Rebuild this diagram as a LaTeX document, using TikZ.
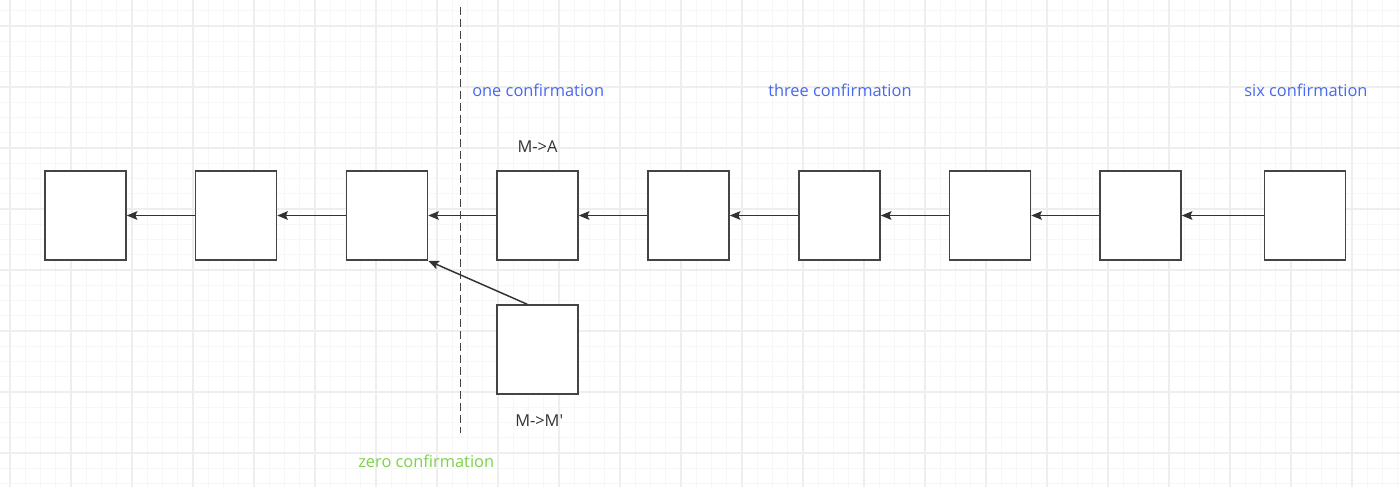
\documentclass[tikz,border=0pt]{standalone}
\usepackage{fontspec}
\setmainfont{Open Sans}[Ligatures=TeXOff]
\usetikzlibrary{arrows.meta,calc}
\definecolor{gridminor}{RGB}{247,247,247}
\definecolor{gridmajor}{RGB}{238,238,238}
\definecolor{boxline}{RGB}{68,68,72}
\definecolor{arrowcol}{RGB}{50,50,50}
\definecolor{confblue}{RGB}{72,104,238}
\definecolor{confgreen}{RGB}{124,210,72}
\definecolor{labelgray}{RGB}{51,51,51}
\tikzset{
  blockbox/.style={draw=boxline, fill=white, line width=1.1pt, inner sep=0pt,
    minimum width=60.75pt, minimum height=66.75pt},
  link/.style={draw=arrowcol, line width=1.1pt,
    -{Stealth[length=8pt,width=6.5pt,inset=1.5pt]}},
  conflabel/.style={font=\fontsize{12.3pt}{14pt}\selectfont, inner sep=0pt},
  blocklabel/.style={font=\fontsize{12.3pt}{14pt}\selectfont, text=labelgray, inner sep=0pt},
  divider/.style={draw=boxline, line width=1.1pt, dash pattern=on 6pt off 3pt}
}
\begin{document}
\begin{tikzpicture}[x=0.75pt,y=-0.75pt]
\useasboundingbox (0,0) rectangle (1400,487);
\fill[white] (0,0) rectangle (1400,487);
% grid
\foreach \k in {0,...,91}{
  \draw[gridminor, line width=0.75pt] ({10+15.25*\k},0) -- ({10+15.25*\k},487);
}
\foreach \k in {0,...,31}{
  \draw[gridminor, line width=0.75pt] (0,{10.75+15.25*\k}) -- (1400,{10.75+15.25*\k});
}
\foreach \k in {0,...,22}{
  \draw[gridmajor, line width=1.1pt] ({10+61*\k},0) -- ({10+61*\k},487);
}
\foreach \k in {0,...,7}{
  \draw[gridmajor, line width=1.1pt] (0,{26+61*\k}) -- (1400,{26+61*\k});
}
% divider
\coordinate (dtop) at (460.7,7);
\coordinate (dbot) at (460.7,433);
\draw[divider] (dtop) -- (dbot);
% blocks
\node[blockbox] (b1) at (85.5,215.5) {};
\node[blockbox] (b2) at (236,215.5) {};
\node[blockbox] (b3) at (387,215.5) {};
\node[blockbox] (b4) at (537.5,215.5) {};
\node[blockbox] (b5) at (688.5,215.5) {};
\node[blockbox] (b6) at (839.5,215.5) {};
\node[blockbox] (b7) at (990,215.5) {};
\node[blockbox] (b8) at (1140.5,215.5) {};
\node[blockbox] (b9) at (1305,215.5) {};
\node[blockbox] (bm) at (537.5,349.5) {};
% links
\draw[link] (b2.west) -- (b1.east);
\draw[link] (b3.west) -- (b2.east);
\draw[link] (b4.west) -- (b3.east);
\draw[link] (b5.west) -- (b4.east);
\draw[link] (b6.west) -- (b5.east);
\draw[link] (b7.west) -- (b6.east);
\draw[link] (b8.west) -- (b7.east);
\draw[link] (b9.west) -- (b8.east);
\draw[link] ($(bm.north)+(-7.7pt,0)$) -- (b3.south east);
% labels
\node[conflabel, text=confblue, anchor=west] (l1) at (472,90) {one confirmation};
\node[conflabel, text=confblue, anchor=west] (l3) at (768,90) {three confirmation};
\node[conflabel, text=confblue, anchor=west] (l6) at (1244,90) {six confirmation};
\node[conflabel, text=confgreen, anchor=west] (l0) at (358,461) {zero confirmation};
\node[blocklabel] (ma) at (537.5,147) {M->A};
\node[blocklabel, anchor=west] (mm) at (515,421) {M->M'};
\end{tikzpicture}
\end{document}
